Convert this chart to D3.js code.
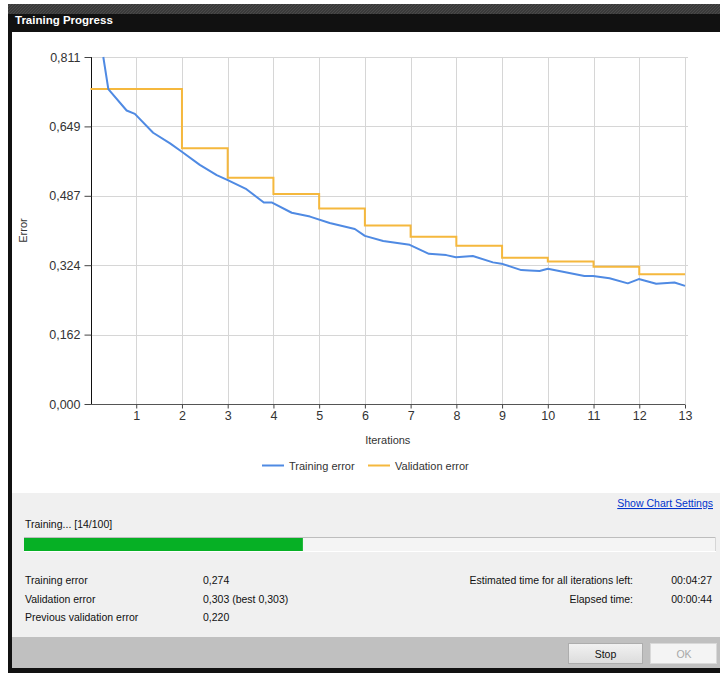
<!DOCTYPE html>
<html>
<head>
<meta charset="utf-8">
<script src="https://cdn.jsdelivr.net/npm/d3@7"></script>
<style>
  html, body { margin: 0; padding: 0; background: #fff; }
  svg { display: block; font-family: "Liberation Sans", Arial, sans-serif; }
</style>
</head>
<body>
<svg id="c" width="720" height="673"></svg>
<script>
// ---- data ----
const trainIter  = [0.28, 0.39, 0.79, 0.97, 1.37, 1.74, 1.99, 2.39, 2.76, 2.99, 3.41, 3.79, 3.96, 4.40, 4.80, 5.23, 5.78, 6.00, 6.40, 6.98, 7.40, 7.78, 7.99, 8.36, 8.80, 9.02, 9.42, 9.60, 9.82, 10.00, 10.80, 10.99, 11.35, 11.75, 11.99, 12.37, 12.77, 13.00];
const trainError = [0.811, 0.736, 0.686, 0.678, 0.634, 0.609, 0.590, 0.559, 0.535, 0.524, 0.502, 0.471, 0.471, 0.447, 0.438, 0.423, 0.409, 0.393, 0.381, 0.372, 0.351, 0.348, 0.343, 0.346, 0.331, 0.327, 0.313, 0.312, 0.311, 0.316, 0.299, 0.299, 0.294, 0.282, 0.292, 0.281, 0.284, 0.276];
const valIter  = [0, 2, 3, 4, 5, 6, 7, 8, 9, 10, 11, 12, 13];
const valError = [0.736, 0.598, 0.529, 0.491, 0.457, 0.417, 0.391, 0.370, 0.342, 0.333, 0.321, 0.303, 0.303];
const xTicks = [1, 2, 3, 4, 5, 6, 7, 8, 9, 10, 11, 12, 13];
const yTicks = [0, 0.1622, 0.3244, 0.4866, 0.6488, 0.811];
const seriesNames = ["Training error", "Validation error"];
const infoLabels = ["Training error", "Validation error", "Previous validation error"];
const infoValues = ["0,274", "0,303 (best 0,303)", "0,220"];
const timeLabels = ["Estimated time for all iterations left:", "Elapsed time:"];
const timeValues = ["00:04:27", "00:00:44"];
const progressDone = 14, progressTotal = 100;
const progressFrac = [0.403]; // bar fill fraction as drawn

const BLUE = "#4f8ae3", ORANGE = "#f5b83d";
const svg = d3.select("#c");
const loc = d3.formatLocale({decimal: ",", thousands: ".", grouping: [3], currency: ["", ""]});
const fmt = loc.format(".3f");

// ---- window chrome ----
svg.append("rect").attr("x", 8).attr("y", 4).attr("width", 712).attr("height", 669).attr("fill", "#111");
const defs = svg.append("defs");
const pat = defs.append("pattern").attr("id", "tex").attr("width", 3).attr("height", 3).attr("patternUnits", "userSpaceOnUse");
pat.append("rect").attr("width", 3).attr("height", 3).attr("fill", "#3a3a3a");
pat.append("path").attr("d", "M0,3 L3,0").attr("stroke", "#4a4a4a").attr("stroke-width", 1);
svg.append("rect").attr("x", 8).attr("y", 4).attr("width", 712).attr("height", 10).attr("fill", "url(#tex)");
svg.append("text").attr("x", 15).attr("y", 24).attr("fill", "#fff").attr("font-weight", "bold")
  .attr("font-size", "11.5px").text("Training Progress");

// content area
svg.append("rect").attr("x", 12).attr("y", 32).attr("width", 708).attr("height", 461).attr("fill", "#fff");
svg.append("rect").attr("x", 12).attr("y", 493).attr("width", 708).attr("height", 144).attr("fill", "#f0f0f0");
svg.append("rect").attr("x", 12).attr("y", 637).attr("width", 708).attr("height", 31).attr("fill", "#c0c0c0");

// ---- chart ----
const x = d3.scaleLinear().domain([0, 13]).range([90.5, 685]);
const y = d3.scaleLinear().domain([0, 0.811]).range([404, 57]);

const g = svg.append("g");
// grid
g.append("g").selectAll("line").data(xTicks).join("line")
  .attr("x1", d => Math.round(x(d)) + 0.5).attr("x2", d => Math.round(x(d)) + 0.5)
  .attr("y1", y(0.811)).attr("y2", y(0)).attr("stroke", "#d6d6d6");
g.append("g").selectAll("line").data(yTicks.slice(1)).join("line")
  .attr("x1", x(0)).attr("x2", x(13) + 3)
  .attr("y1", d => Math.round(y(d)) + 0.5).attr("y2", d => Math.round(y(d)) + 0.5).attr("stroke", "#d6d6d6");

// axes
const yAxis = d3.axisLeft(y).tickValues(yTicks).tickFormat(d => fmt(d)).tickSize(7).tickPadding(4);
const ya = g.append("g").attr("transform", `translate(${Math.round(x(0)) + 0.5},0)`).call(yAxis);
ya.select(".domain").attr("stroke", "#111").attr("d", `M0,${y(0.811)}V${y(0)}`);
ya.selectAll(".tick line").attr("stroke", "#444");
ya.selectAll("text").attr("font-size", "12.5px").attr("fill", "#333").attr("font-family", "Liberation Sans, Arial, sans-serif");

const xAxis = d3.axisBottom(x).tickValues(xTicks).tickFormat(d3.format("d")).tickSize(4).tickPadding(3);
const xa = g.append("g").attr("transform", `translate(0,${Math.round(y(0)) + 0.5})`).call(xAxis);
xa.select(".domain").attr("stroke", "#555").attr("d", `M${x(0)},0H${x(13)}`);
xa.selectAll(".tick line").attr("stroke", "#444");
xa.selectAll("text").attr("font-size", "12.5px").attr("fill", "#333").attr("font-family", "Liberation Sans, Arial, sans-serif");

// axis titles
svg.append("text").attr("transform", `translate(27,${(y(0) + y(0.811)) / 2}) rotate(-90)`)
  .attr("text-anchor", "middle").attr("font-size", "11px").attr("fill", "#333").text("Error");
svg.append("text").attr("x", (x(0) + x(13)) / 2).attr("y", 444).attr("text-anchor", "middle")
  .attr("font-size", "11px").attr("fill", "#333").text("Iterations");

// lines
const trainData = trainIter.map((t, i) => [t, trainError[i]]);
const valData = valIter.map((t, i) => [t, valError[i]]);
g.append("path").datum(valData).attr("fill", "none").attr("stroke", ORANGE).attr("stroke-width", 2)
  .attr("d", d3.line().x(d => x(d[0])).y(d => y(d[1])).curve(d3.curveStepAfter));
g.append("path").datum(trainData).attr("fill", "none").attr("stroke", BLUE).attr("stroke-width", 2)
  .attr("stroke-linejoin", "round")
  .attr("d", d3.line().x(d => x(d[0])).y(d => y(d[1])));

// legend
const legX = [262, 368], legColors = [BLUE, ORANGE];
seriesNames.forEach((n, i) => {
  svg.append("line").attr("x1", legX[i]).attr("x2", legX[i] + 22).attr("y1", 465.5).attr("y2", 465.5)
    .attr("stroke", legColors[i]).attr("stroke-width", 2);
  svg.append("text").attr("x", legX[i] + 27).attr("y", 469.5).attr("font-size", "11px").attr("fill", "#333").text(n);
});

// ---- bottom panel ----
svg.append("text").attr("x", 713).attr("y", 507).attr("text-anchor", "end").attr("font-size", "10.5px")
  .attr("fill", "#0033cc").attr("text-decoration", "underline").text("Show Chart Settings");
svg.append("text").attr("x", 25).attr("y", 528).attr("font-size", "10.5px").attr("fill", "#111")
  .text(`Training... [${progressDone}/${progressTotal}]`);

const px = d3.scaleLinear().domain([0, 1]).range([24, 716]);
svg.append("rect").attr("x", 24).attr("y", 537).attr("width", px(1) - px(0)).attr("height", 15)
  .attr("fill", "#f4f4f4");
svg.append("line").attr("x1", 24).attr("x2", 716).attr("y1", 537.5).attr("y2", 537.5).attr("stroke", "#bdbdbd");
svg.append("line").attr("x1", 715.5).attr("x2", 715.5).attr("y1", 537).attr("y2", 552).attr("stroke", "#d6d6d6");
svg.append("line").attr("x1", 24).attr("x2", 716).attr("y1", 551.5).attr("y2", 551.5).attr("stroke", "#ffffff");
svg.append("rect").attr("x", 24).attr("y", 538).attr("width", px(progressFrac[0]) - px(0)).attr("height", 13)
  .attr("fill", "#06b025");

infoLabels.forEach((l, i) => {
  svg.append("text").attr("x", 25).attr("y", 584 + i * 18.5).attr("font-size", "10.5px").attr("fill", "#111").text(l);
  svg.append("text").attr("x", 203).attr("y", 584 + i * 18.5).attr("font-size", "10.5px").attr("fill", "#111").text(infoValues[i]);
});
timeLabels.forEach((l, i) => {
  svg.append("text").attr("x", 633).attr("y", 584 + i * 18.5).attr("text-anchor", "end").attr("font-size", "10.5px").attr("fill", "#111").text(l);
  svg.append("text").attr("x", 712).attr("y", 584 + i * 18.5).attr("text-anchor", "end").attr("font-size", "10.5px").attr("fill", "#111").text(timeValues[i]);
});

// buttons
const grad = defs.append("linearGradient").attr("id", "btn").attr("x1", 0).attr("y1", 0).attr("x2", 0).attr("y2", 1);
grad.append("stop").attr("offset", "0%").attr("stop-color", "#f2f2f2");
grad.append("stop").attr("offset", "100%").attr("stop-color", "#dcdcdc");
svg.append("rect").attr("x", 568.5).attr("y", 643.5).attr("width", 74).attr("height", 20)
  .attr("fill", "url(#btn)").attr("stroke", "#adadad");
svg.append("text").attr("x", 605.5).attr("y", 657.5).attr("text-anchor", "middle").attr("font-size", "10.5px").attr("fill", "#111").text("Stop");
svg.append("rect").attr("x", 650.5).attr("y", 643.5).attr("width", 66).attr("height", 20)
  .attr("fill", "#f4f4f4").attr("stroke", "#d9d9d9");
svg.append("text").attr("x", 684).attr("y", 657.5).attr("text-anchor", "middle").attr("font-size", "10.5px").attr("fill", "#a8a8a8").text("OK");
</script>
</body>
</html>
